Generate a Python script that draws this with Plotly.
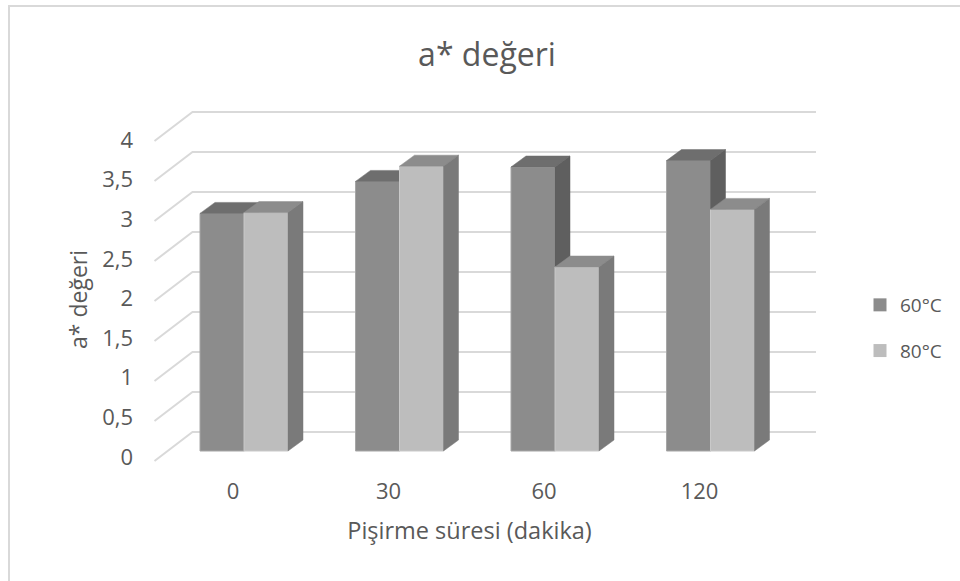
import plotly.graph_objects as go

categories = ["0", "30", "60", "120"]
series_60 = [2.97, 3.37, 3.55, 3.63]
series_80 = [2.98, 3.56, 2.30, 3.02]
y_ticks = [0, 0.5, 1, 1.5, 2, 2.5, 3, 3.5, 4]
y_labels = ["0", "0,5", "1", "1,5", "2", "2,5", "3", "3,5", "4"]

W, H = 960, 581
L, R, T, B = 100, 839, 95, 476       # plot box in pixels
CX0, CDX = 244.0, 155.5              # category centre and spacing
LABEL_SHIFT = 11.0                   # category labels sit left of the bars
Y0, PY = 451.0, 80.0                 # value zero and pixels per unit
LY0, LPY = 457.0, 79.25              # tick-label scale
BW = 44 / CDX
DX, DY = 15 / CDX, 11 / PY           # bar depth
WALL_Y = (451 - 432) / PY            # back wall lift
WALL_L = (192.5 - CX0) / CDX
WALL_R = (816 - CX0) / CDX
SLX, SLY = (154.5 - CX0) / CDX, -(461 - 451) / PY

xrange = [(L - CX0) / CDX, (R - CX0) / CDX]
xlabrange = [(L - CX0 + LABEL_SHIFT) / CDX, (R - CX0 + LABEL_SHIFT) / CDX]
yrange = [(Y0 - B) / PY, (Y0 - T) / PY]
lrange = [(LY0 - B) / LPY, (LY0 - T) / LPY]
dom_x = [L / W, R / W]
dom_y = [1 - B / H, 1 - T / H]
TXT = "#595959"
GRID = "#d9d9d9"
FONT = "Open Sans, sans-serif"


def faces(vals, off, top_col, side_col, ax):
    out = []
    for i, v in enumerate(vals):
        xl, xr = i + off, i + off + BW
        out.append(go.Scatter(x=[xl, xl + DX, xr + DX, xr, xl], y=[v, v + DY, v + DY, v, v],
                              fill="toself", fillcolor=top_col, mode="lines",
                              line=dict(color=top_col, width=0.5), showlegend=False,
                              hoverinfo="skip", xaxis=ax[0], yaxis=ax[1]))
        out.append(go.Scatter(x=[xr, xr + DX, xr + DX, xr, xr], y=[0, DY, v + DY, v, 0],
                              fill="toself", fillcolor=side_col, mode="lines",
                              line=dict(color=side_col, width=0.5), showlegend=False,
                              hoverinfo="skip", xaxis=ax[0], yaxis=ax[1]))
    return out


fig = go.Figure()

# back wall gridlines with the slanted side strip (base subplot)
for t in y_ticks:
    fig.add_trace(go.Scatter(x=[SLX, WALL_L, WALL_R],
                             y=[t + SLY, t + WALL_Y, t + WALL_Y], mode="lines",
                             line=dict(color=GRID, width=2), showlegend=False, hoverinfo="skip"))

for tr in faces(series_60, -BW, "#6e6e6e", "#5f5f5f", ("x2", "y2")):
    fig.add_trace(tr)
fig.add_trace(go.Bar(x=list(range(4)), y=series_60, width=BW, offset=-BW, name="60°C",
                     marker=dict(color="#8c8c8c", line=dict(color="#a6a6a6", width=1)),
                     showlegend=False, xaxis="x2", yaxis="y2"))

for tr in faces(series_80, 0, "#8c8c8c", "#7a7a7a", ("x3", "y3")):
    fig.add_trace(tr)
fig.add_trace(go.Bar(x=list(range(4)), y=series_80, width=BW, offset=0, name="80°C",
                     marker=dict(color="#bdbdbd", line=dict(color="#c9c9c9", width=1)),
                     showlegend=False, xaxis="x3", yaxis="y3"))

# legend entries
fig.add_trace(go.Scatter(x=[None], y=[None], mode="markers", name="60°C", legendgroup="a",
                         marker=dict(symbol="square", size=13, color="#8c8c8c")))
fig.add_trace(go.Scatter(x=[None], y=[None], mode="markers", name="80°C", legendgroup="b",
                         marker=dict(symbol="square", size=13, color="#bdbdbd")))

# invisible trace on the label axes
fig.add_trace(go.Scatter(x=[0], y=[0], mode="markers", marker=dict(opacity=0), showlegend=False,
                         hoverinfo="skip", xaxis="x4", yaxis="y4"))

hidden = dict(visible=False, fixedrange=True)
fig.update_layout(
    width=W, height=H, autosize=False,
    margin=dict(l=0, r=0, t=0, b=0),
    paper_bgcolor="white", plot_bgcolor="rgba(0,0,0,0)",
    font=dict(family=FONT, color=TXT, size=19),
    barmode="overlay",
    showlegend=True,
    legend=dict(x=860 / W, y=1 - 286 / H, xanchor="left", yanchor="top", tracegroupgap=18,
                font=dict(size=19, color=TXT), bgcolor="rgba(0,0,0,0)", itemwidth=30),
    title=dict(text="a* değeri", x=487 / W, xanchor="center", y=1 - 55 / H, yanchor="middle",
               font=dict(size=32, color=TXT)),
    xaxis=dict(domain=dom_x, range=xrange, **hidden),
    yaxis=dict(domain=dom_y, range=yrange, **hidden),
    xaxis2=dict(domain=dom_x, range=xrange, overlaying="x", anchor="y2", **hidden),
    yaxis2=dict(domain=dom_y, range=yrange, overlaying="y", anchor="x2", **hidden),
    xaxis3=dict(domain=dom_x, range=xrange, overlaying="x", anchor="y3", **hidden),
    yaxis3=dict(domain=dom_y, range=yrange, overlaying="y", anchor="x3", **hidden),
    xaxis4=dict(domain=dom_x, range=xlabrange, overlaying="x", anchor="y4", tickmode="array",
                tickvals=[0, 1, 2, 3], ticktext=categories, showgrid=False, zeroline=False,
                showline=False, ticks="", fixedrange=True,
                title=dict(text="Pişirme süresi (dakika)", standoff=18,
                           font=dict(size=23.5, color=TXT)),
                tickfont=dict(size=22, color=TXT)),
    yaxis4=dict(domain=dom_y, range=lrange, overlaying="y", anchor="free", position=133 / W,
                side="left", tickmode="array", tickvals=y_ticks, ticktext=y_labels,
                showgrid=False, zeroline=False, showline=False, ticks="", fixedrange=True,
                tickfont=dict(size=22, color=TXT)),
    annotations=[dict(text="a* değeri", x=78 / W, y=1 - 300 / H, xref="paper", yref="paper",
                      xanchor="center", yanchor="middle", textangle=-90, showarrow=False,
                      font=dict(size=23, color=TXT))],
    shapes=[dict(type="rect", xref="paper", yref="paper", x0=9 / W, x1=1.2, y0=-0.2, y1=1 - 6 / H,
                 line=dict(color=GRID, width=2), layer="below")],
)
fig.write_html("out.html", config={"displayModeBar": False},
               post_script="document.body.style.margin='0';document.body.style.overflow='hidden';")
